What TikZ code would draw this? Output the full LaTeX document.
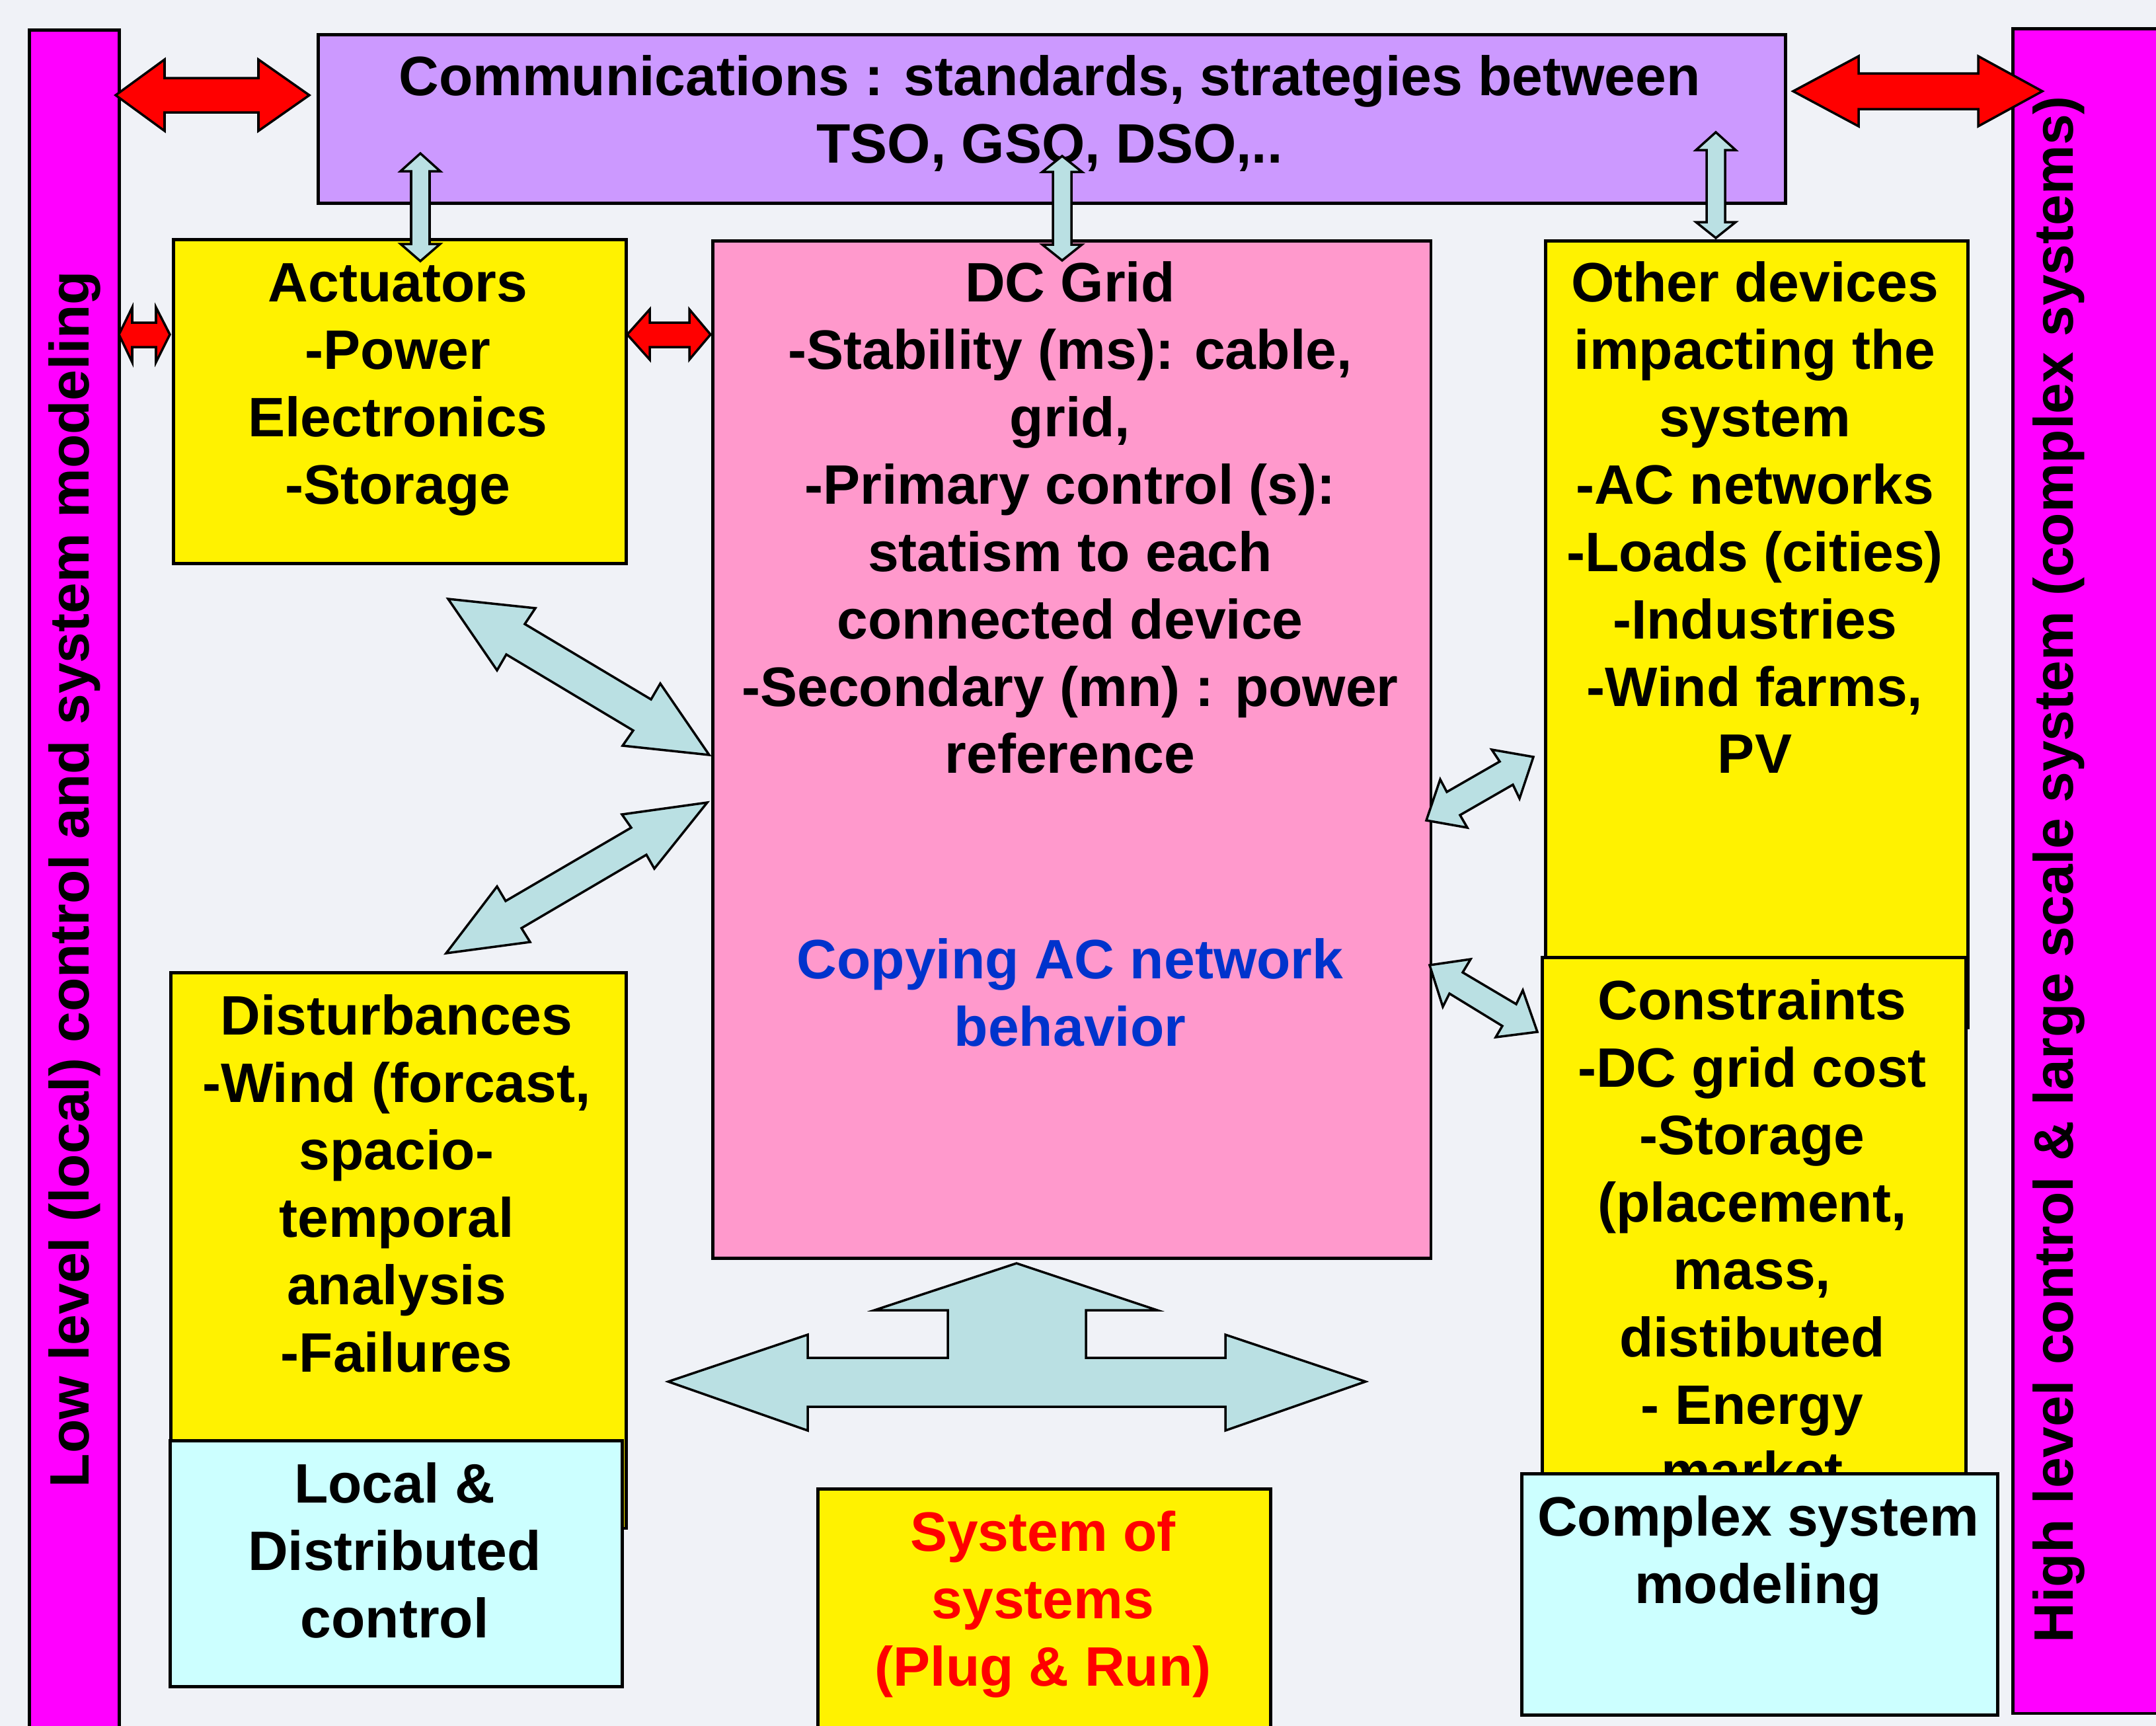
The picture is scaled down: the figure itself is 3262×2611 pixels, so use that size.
\documentclass[tikz,border=0pt]{standalone}
\usepackage{fontspec}
\setmainfont{Liberation Sans}

\definecolor{bgcol}{HTML}{F0F2F7}
\definecolor{barcol}{HTML}{FF00FF}
\definecolor{commcol}{HTML}{CC99FF}
\definecolor{dccol}{HTML}{FF99CC}
\definecolor{modcol}{HTML}{CCFFFF}
\definecolor{linkcol}{HTML}{BAE0E3}
\definecolor{copycol}{HTML}{0033CC}

\tikzset{
  box/.style={draw, line width=1.35pt, anchor=north west, inner sep=0pt},
  txt/.style={anchor=north, inner sep=0pt, align=center, font=\fontsize{23.9pt}{29pt}\selectfont\bfseries},
  bartxt/.style={anchor=base, inner sep=0pt, rotate=90, font=\fontsize{23.9pt}{29pt}\selectfont\bfseries},
  redlink/.style={draw=black, line width=1pt, fill=red},
  bluelink/.style={draw=black, line width=1pt, fill=linkcol},
}

\begin{document}
\begin{tikzpicture}[x=0.01cm, y=-0.01cm]
\useasboundingbox (0,0) rectangle (3262,2611);
\clip (0,0) rectangle (3262,2611);
\fill[bgcol] (0,0) rectangle (3262,2611);

% side bars
\node[box, fill=barcol, minimum width=1.36cm, minimum height=27cm] (low) at (42,43) {};
\node[box, fill=barcol, minimum width=2.6cm, minimum height=25.47cm] (high) at (3043,41) {};
\node[bartxt] (lowtxt) at (134,1330) {Low level (local) control and system modeling};
\node[bartxt] (hightxt) at (3136,1315) {High level control \& large scale system (complex systems)};

% boxes
\node[box, fill=commcol, minimum width=22.19cm, minimum height=2.55cm] (comm) at (479,50) {};
\node[box, fill=yellow, minimum width=6.85cm, minimum height=4.9cm] (act) at (260,360) {};
\node[box, fill=dccol, minimum width=10.86cm, minimum height=15.38cm] (dc) at (1076,362) {};
\node[box, fill=yellow, minimum width=6.39cm, minimum height=11.9cm] (other) at (2336,362) {};
\node[box, fill=yellow, minimum width=6.41cm, minimum height=9.54cm] (cons) at (2331,1446) {};
\node[box, fill=yellow, minimum width=6.89cm, minimum height=8.4cm] (dist) at (256,1469) {};
\node[box, fill=modcol, minimum width=6.84cm, minimum height=3.72cm] (local) at (255,2177) {};
\node[box, fill=yellow, minimum width=6.85cm, minimum height=4.5cm] (sos) at (1235,2250) {};

% texts
\node[txt] (commtxt) at (1588,72) {\strut Communications : standards, strategies between\\TSO, GSO, DSO,..};
\node[txt] (acttxt) at (602,384) {\strut Actuators\\-Power\\Electronics\\-Storage};
\node[txt] (dctxt) at (1619,384) {\strut DC Grid\\-Stability (ms): cable,\\grid,\\-Primary control (s):\\statism to each\\connected device\\-Secondary (mn) : power\\reference};
\node[txt, text=copycol] (copytxt) at (1619,1408) {\strut Copying AC network\\behavior};
\node[txt] (othertxt) at (2655,384) {\strut Other devices\\impacting the\\system\\-AC networks\\-Loads (cities)\\-Industries\\-Wind farms,\\PV};
\node[txt] (constxt) at (2651,1470) {\strut Constraints\\-DC grid cost\\-Storage\\(placement,\\mass,\\distibuted\\- Energy\\market};
\node[txt] (disttxt) at (600,1493) {\strut Disturbances\\-Wind (forcast,\\spacio-\\temporal\\analysis\\-Failures};
\node[txt] (localtxt) at (597,2201) {\strut Local \&\\Distributed\\control};
\node[txt, text=red] (sostxt) at (1578,2274) {\strut System of\\systems\\(Plug \& Run)};

\node[box, fill=modcol, minimum width=7.2cm, minimum height=3.65cm] (cplx) at (2300,2227) {};
\node[txt] (cplxtxt) at (2660,2251) {\strut Complex system\\modeling};

% red links
\draw[redlink] (175,144) -- (249,90) -- (249,118) -- (391,118) -- (391,90) -- (468,144) -- (391,198) -- (391,170) -- (249,170) -- (249,198) -- cycle;
\draw[redlink] (2713,138) -- (2812,85) -- (2812,111) -- (2993,111) -- (2993,85) -- (3090,138) -- (2993,191) -- (2993,165) -- (2812,165) -- (2812,191) -- cycle;
\draw[redlink] (180,506) -- (200,465) -- (200,488) -- (236,488) -- (236,465) -- (257,506) -- (236,548) -- (236,525) -- (200,525) -- (200,548) -- cycle;
\draw[redlink] (949,506) -- (983,468) -- (983,488) -- (1043,488) -- (1043,468) -- (1075,506) -- (1043,544) -- (1043,525) -- (983,525) -- (983,544) -- cycle;

% blue links to communications
\draw[bluelink] (636,232) -- (666,259) -- (650,259) -- (650,369) -- (666,369) -- (636,395) -- (606,369) -- (622,369) -- (622,259) -- (606,259) -- cycle;
\draw[bluelink] (1607,236) -- (1637,260) -- (1621,260) -- (1621,370) -- (1637,370) -- (1607,394) -- (1577,370) -- (1593,370) -- (1593,260) -- (1577,260) -- cycle;
\draw[bluelink] (2596,200) -- (2626,227) -- (2610,227) -- (2610,336) -- (2626,336) -- (2596,360) -- (2566,336) -- (2582,336) -- (2582,227) -- (2566,227) -- cycle;

% blue links to DC grid
\draw[bluelink] (678,906) -- (810,920) -- (794,944) -- (985,1058) -- (999,1034) -- (1073,1142) -- (942,1128) -- (958,1105) -- (766,990) -- (752,1014) -- cycle;
\draw[bluelink] (1070,1214) -- (990,1314) -- (978,1293) -- (789,1404) -- (802,1425) -- (675,1442) -- (752,1341) -- (765,1363) -- (955,1252) -- (941,1232) -- cycle;
\draw[bluelink] (2320,1145) -- (2299,1208) -- (2289,1187) -- (2209,1233) -- (2220,1252) -- (2158,1241) -- (2179,1179) -- (2189,1198) -- (2269,1152) -- (2257,1134) -- cycle;
\draw[bluelink] (2163,1460) -- (2225,1451) -- (2213,1471) -- (2294,1519) -- (2304,1498) -- (2326,1561) -- (2263,1569) -- (2273,1552) -- (2193,1503) -- (2183,1523) -- cycle;

% plug and run arrow
\draw[bluelink] (1538,1911) -- (1751,1982) -- (1643,1982) -- (1643,2054) -- (1854,2054) -- (1854,2019) -- (2066,2090) -- (1854,2164) -- (1854,2128) -- (1222,2128) -- (1222,2164) -- (1011,2090) -- (1222,2019) -- (1222,2054) -- (1434,2054) -- (1434,1982) -- (1323,1982) -- cycle;
\end{tikzpicture}
\end{document}
